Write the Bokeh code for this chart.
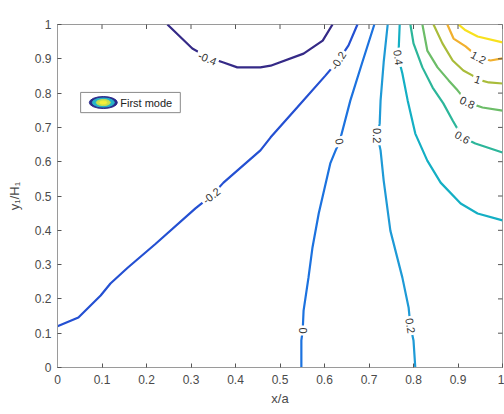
import numpy as np
from bokeh.plotting import figure
from bokeh.models import ColumnDataSource, Range1d, FixedTicker, Label
from bokeh.embed import file_html
from bokeh.resources import INLINE
from bokeh.core.properties import value

# ---------------- data ----------------
levels = [-0.4, -0.2, 0.0, 0.2, 0.4, 0.6, 0.8, 1.0, 1.2, 1.4]
level_colors = ["#352a87", "#2450d2", "#1c72df", "#1e9ad6", "#14afc4",
                "#2cb69a", "#6cbd68", "#a9bc3a", "#f1b02e", "#f8e11e"]

c_m04_x = [0.247, 0.303, 0.337, 0.373, 0.404, 0.456, 0.479, 0.553, 0.596, 0.618]
c_m04_y = [1.000, 0.930, 0.905, 0.889, 0.875, 0.875, 0.880, 0.915, 0.953, 1.000]

c_m02_x = [0.000, 0.047, 0.097, 0.119, 0.157, 0.220, 0.310, 0.346, 0.373, 0.456, 0.479, 0.540, 0.602, 0.631, 0.654, 0.674]
c_m02_y = [0.120, 0.146, 0.210, 0.245, 0.290, 0.360, 0.464, 0.501, 0.539, 0.633, 0.671, 0.760, 0.851, 0.895, 0.939, 1.000]

c_0_x = [0.548, 0.548, 0.551, 0.553, 0.564, 0.573, 0.587, 0.613, 0.625, 0.634, 0.658, 0.685, 0.712]
c_0_y = [0.000, 0.079, 0.108, 0.166, 0.262, 0.350, 0.449, 0.595, 0.633, 0.659, 0.778, 0.890, 1.000]

c_02_x = [0.804, 0.800, 0.793, 0.789, 0.775, 0.748, 0.733, 0.726, 0.719, 0.724, 0.726, 0.733, 0.742]
c_02_y = [0.000, 0.079, 0.122, 0.175, 0.262, 0.399, 0.545, 0.633, 0.676, 0.711, 0.778, 0.890, 1.000]

c_04_x = [1.000, 0.944, 0.906, 0.861, 0.831, 0.804, 0.787, 0.775, 0.766, 0.769]
c_04_y = [0.429, 0.449, 0.478, 0.539, 0.603, 0.682, 0.778, 0.857, 0.904, 1.000]

c_06_x = [1.000, 0.939, 0.910, 0.888, 0.867, 0.843, 0.820, 0.800, 0.793]
c_06_y = [0.627, 0.653, 0.671, 0.720, 0.770, 0.816, 0.875, 0.945, 1.000]

c_08_x = [1.000, 0.955, 0.921, 0.899, 0.879, 0.854, 0.831, 0.820]
c_08_y = [0.749, 0.758, 0.773, 0.808, 0.837, 0.875, 0.924, 1.000]

c_10_x = [1.000, 0.969, 0.944, 0.933, 0.912, 0.888, 0.865, 0.845]
c_10_y = [0.828, 0.831, 0.840, 0.851, 0.866, 0.895, 0.945, 1.000]

c_12_x = [1.000, 0.973, 0.946, 0.917, 0.890, 0.876]
c_12_y = [0.901, 0.895, 0.904, 0.936, 0.959, 1.000]

c_14_x = [1.000, 0.944, 0.917, 0.901]
c_14_y = [0.948, 0.965, 0.983, 1.000]

label_text = ["-0.4", "-0.2", "-0.2", "0", "0", "0.2", "0.2", "0.4", "0.6", "0.8", "1", "1.2"]
label_x = [0.337, 0.631, 0.346, 0.634, 0.551, 0.719, 0.793, 0.766, 0.910, 0.921, 0.944, 0.946]
label_y = [0.901, 0.895, 0.501, 0.659, 0.108, 0.676, 0.122, 0.904, 0.671, 0.773, 0.840, 0.904]
label_angle_deg = [-22, 58, 38, -78, -90, -90, -82, -82, -30, -25, -18, -28]

x_ticks = [0, 0.1, 0.2, 0.3, 0.4, 0.5, 0.6, 0.7, 0.8, 0.9, 1]
x_tick_labels = ["0", "0.1", "0.2", "0.3", "0.4", "0.5", "0.6", "0.7", "0.8", "0.9", "1"]
y_ticks = [0, 0.1, 0.2, 0.3, 0.4, 0.5, 0.6, 0.7, 0.8, 0.9, 1]
y_tick_labels = ["0", "0.1", "0.2", "0.3", "0.4", "0.5", "0.6", "0.7", "0.8", "0.9", "1"]

legend_label = "First mode"
legend_colors = ["#2a2a8c", "#27b3c8", "#c8e04a", "#f5ee3a"]

# ---------------- figure ----------------
FONT = "Liberation Sans"
AX_COLOR = "#9a9a9a"
TICK_COLOR = "#555555"
TXT_COLOR = "#4a4a4a"

p = figure(width=504, height=414, x_range=Range1d(0, 1), y_range=Range1d(0, 1),
           output_backend="svg", toolbar_location=None,
           min_border_left=57, min_border_right=2, min_border_top=24, min_border_bottom=47)
p.title.visible = False
p.xgrid.visible = False
p.ygrid.visible = False
p.outline_line_color = AX_COLOR
p.background_fill_color = "white"

xs = [c_m04_x, c_m02_x, c_0_x, c_02_x, c_04_x, c_06_x, c_08_x, c_10_x, c_12_x, c_14_x]
ys = [c_m04_y, c_m02_y, c_0_y, c_02_y, c_04_y, c_06_y, c_08_y, c_10_y, c_12_y, c_14_y]
src = ColumnDataSource(dict(xs=xs, ys=ys, color=level_colors, level=levels))
p.multi_line(xs="xs", ys="ys", line_color="color", line_width=2.2, source=src)

lsrc = ColumnDataSource(dict(x=label_x, y=label_y, text=label_text,
                             angle=[np.deg2rad(a) for a in label_angle_deg]))
p.text(x="x", y="y", text="text", angle="angle", source=lsrc,
       text_font=value(FONT), text_font_size="11px", text_color="#333333",
       text_align="center", text_baseline="middle",
       background_fill_color="white", padding=2)

# tick marks on the right and top edges (MATLAB box style)
p.scatter(x=[1] * len(y_ticks), y=y_ticks, marker="dash", size=9,
          line_color=TICK_COLOR, line_width=1)
p.scatter(x=x_ticks, y=[1] * len(x_ticks), marker="dash", size=9, angle=np.pi / 2,
          line_color=TICK_COLOR, line_width=1)

# legend box (manual, MATLAB style)
LEG_L, LEG_R, LEG_B, LEG_T = 0.052, 0.276, 0.743, 0.802
LEG_CY = (LEG_B + LEG_T) / 2
p.quad(left=[LEG_L], right=[LEG_R], bottom=[LEG_B], top=[LEG_T],
       fill_color="white", line_color="#8a8a8a", line_width=1)
icon_x = LEG_L + 0.051
for w, h, c in zip([28, 22, 14, 7], [12, 9, 6, 3], legend_colors):
    p.ellipse(x=[icon_x], y=[LEG_CY], width=w, height=h,
              width_units="screen", height_units="screen",
              fill_color=c, line_color=c, line_width=1)
p.text(x=[icon_x + 0.038], y=[LEG_CY], text=[legend_label],
       text_font=value(FONT), text_font_size="11px", text_color="#222222",
       text_align="left", text_baseline="middle")

# axes
def style_axis(ax):
    ax.axis_line_color = AX_COLOR
    ax.major_tick_line_color = TICK_COLOR
    ax.major_tick_in = 4
    ax.major_tick_out = 0
    ax.minor_tick_line_color = None
    ax.major_label_text_font = FONT
    ax.major_label_text_font_size = "12px"
    ax.major_label_text_color = TXT_COLOR
    ax.axis_label_text_font = FONT
    ax.axis_label_text_font_size = "13px"
    ax.axis_label_text_font_style = "normal"
    ax.axis_label_text_color = TXT_COLOR

xa = p.xaxis[0]
xa.ticker = FixedTicker(ticks=x_ticks)
xa.major_label_overrides = {t: l for t, l in zip(x_ticks, x_tick_labels)}
xa.axis_label = "x/a"
style_axis(xa)
xa.major_label_standoff = 7
xa.axis_label_standoff = 4

ya = p.yaxis[0]
ya.ticker = FixedTicker(ticks=y_ticks)
ya.major_label_overrides = {t: l for t, l in zip(y_ticks, y_tick_labels)}
ya.axis_label = "y\u2081/H\u2081"
style_axis(ya)
ya.major_label_standoff = 6
ya.axis_label_standoff = 10

title = Label(x=0.5, y=1.0, x_units="data", y_units="data", text="Fluid velocity in domain 1",
              text_font=FONT, text_font_size="13px", text_font_style="bold",
              text_color="#222222", text_align="center", text_baseline="bottom",
              y_offset=7)
p.add_layout(title)

open("out.html", "w").write(file_html(p, INLINE))
